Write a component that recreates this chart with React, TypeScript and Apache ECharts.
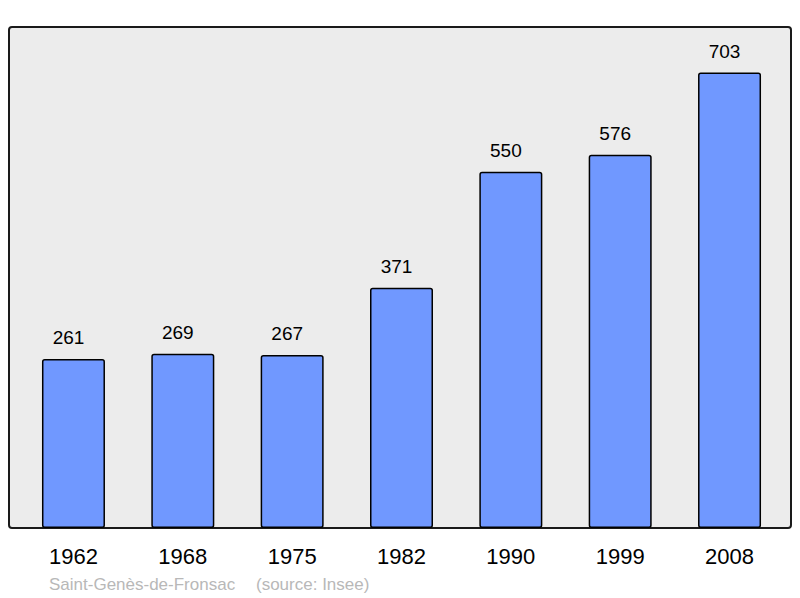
import React, { useEffect, useRef } from "react";
import * as echarts from "echarts";

const years = ["1962", "1968", "1975", "1982", "1990", "1999", "2008"];
const population = [261, 269, 267, 371, 550, 576, 703];
const commune = "Saint-Genès-de-Fronsac";
const source = "(source: Insee)";

export default function App() {
  const ref = useRef<HTMLDivElement>(null);
  useEffect(() => {
    if (!ref.current) return;
    const chart = echarts.init(ref.current, null, { renderer: "svg" });
    const maxVal = Math.max(...population) * 1.1;
    chart.setOption({
      animation: false,
      textStyle: { fontFamily: "Liberation Sans, Arial, sans-serif" },
      graphic: [
        {
          type: "rect",
          z: -10,
          shape: { x: 9, y: 27, width: 782, height: 501, r: 3 },
          style: { fill: "#ececec", stroke: "#1a1a1a", lineWidth: 2 },
        },
        {
          type: "text",
          x: 49,
          y: 584,
          style: {
            text: commune,
            fill: "#b8b8b8",
            font: "17px 'Liberation Sans', Arial, sans-serif",
            verticalAlign: "middle",
          },
        },
        {
          type: "text",
          x: 256,
          y: 584,
          style: {
            text: source,
            fill: "#b8b8b8",
            font: "17px 'Liberation Sans', Arial, sans-serif",
            verticalAlign: "middle",
          },
        },
      ],
      grid: { left: 18.8, right: 800 - 784.2, top: 27, bottom: 70, containLabel: false },
      xAxis: {
        type: "category",
        data: years,
        axisLine: { show: false },
        axisTick: { show: false },
        axisLabel: { color: "#000", fontSize: 22, margin: 17 },
      },
      yAxis: {
        type: "value",
        min: 0,
        max: maxVal,
        show: false,
        splitLine: { show: false },
      },
      series: [
        {
          type: "bar",
          data: population,
          barWidth: 63,
          itemStyle: {
            color: "#7098ff",
            borderColor: "#000",
            borderWidth: 1.5,
            borderRadius: 2,
          },
          label: {
            show: true,
            position: "top",
            distance: 12,
            offset: [-5, 0],
            color: "#000",
            fontSize: 19,
          },
        },
      ],
    });
    return () => chart.dispose();
  }, []);
  return (
    <div
      ref={ref}
      style={{ position: "absolute", left: 0, top: 0, width: 800, height: 598 }}
    />
  );
}
